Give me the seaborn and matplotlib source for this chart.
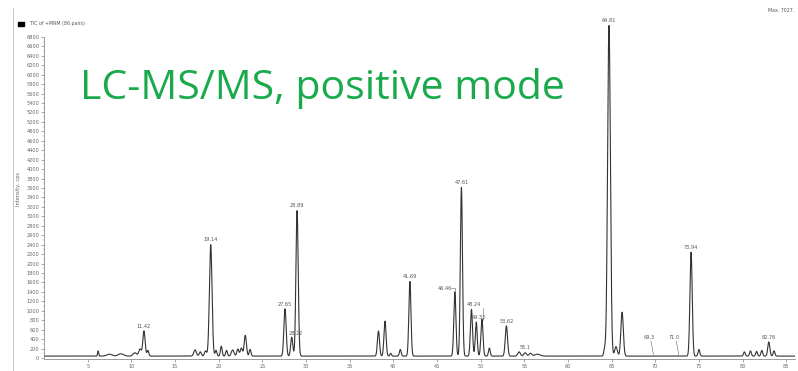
import numpy as np
import pandas as pd
import matplotlib
matplotlib.use("Agg")
import matplotlib.pyplot as plt
from matplotlib.lines import Line2D
from matplotlib.patches import Rectangle
import seaborn as sns

# ---- data ----
# labelled peaks: retention time (min), height (cps), width (sigma, min), label
peak_times = [11.45, 19.09, 27.6, 28.37, 28.98, 41.9, 47.05, 47.8, 48.95, 50.15, 52.95, 55.1, 64.7, 74.1, 83.0]
peak_heights = [530, 2360, 1000, 400, 3080, 1580, 1360, 3570, 990, 780, 640, 70, 7000, 2200, 300]
peak_sigmas = [0.13, 0.15, 0.13, 0.12, 0.13, 0.12, 0.12, 0.12, 0.12, 0.12, 0.13, 0.15, 0.16, 0.13, 0.12]
peak_labels = ["11.42", "19.14", "27.65", "28.22", "28.89", "41.69", "46.46", "47.61",
               "48.24", "49.32", "53.62", "55.1", "64.81", "73.94", "82.76"]

# unlabelled minor peaks / baseline bumps: time, height, sigma
minor_times = [6.2, 7.5, 8.8, 10.4, 11.0, 11.9, 17.3, 17.9, 18.5, 19.7, 20.3, 20.9, 21.6, 22.2, 22.6,
               23.05, 23.6, 38.3, 39.05, 39.7, 40.8, 49.5, 51.0, 54.4, 55.7, 56.5, 64.2, 65.5, 66.2,
               75.0, 80.2, 80.9, 81.6, 82.2, 83.6]
minor_heights = [110, 40, 50, 70, 150, 120, 130, 90, 110, 120, 210, 120, 130, 150, 170,
                 440, 140, 530, 740, 60, 140, 720, 170, 90, 60, 40, 150, 200, 930,
                 140, 90, 110, 100, 120, 110]
minor_sigmas = [0.06, 0.3, 0.3, 0.2, 0.15, 0.1, 0.15, 0.12, 0.12, 0.1, 0.1, 0.1, 0.15, 0.12, 0.12,
                0.13, 0.1, 0.12, 0.12, 0.08, 0.1, 0.11, 0.1, 0.15, 0.15, 0.3, 0.1, 0.15, 0.14,
                0.1, 0.1, 0.1, 0.1, 0.1, 0.1]
baseline_level = 40

# label placement tweaks (dx in min, dy in cps)
label_offsets = {"46.46": (-1.15, -40), "48.24": (0.3, 0), "49.32": (-0.35, -60), "28.22": (0.5, -20)}
leader_labels = ["69.3", "71.0"]
leader_label_pos = [(69.3, 380), (72.2, 380)]
leader_targets = [(69.8, 20), (72.7, 20)]

x_ticks = list(range(5, 90, 5))
y_ticks = list(range(0, 7000, 200))

# ---- build trace ----
t = np.arange(0, 86.0, 0.01)
y = np.full_like(t, float(baseline_level))
for c, h, s in zip(peak_times + minor_times, peak_heights + minor_heights, peak_sigmas + minor_sigmas):
    y += h * np.exp(-0.5 * ((t - c) / s) ** 2)
df = pd.DataFrame({"time": t, "intensity": y})

sns.set_style("white")
plt.rcParams["font.family"] = ["DejaVu Sans"]

W, H = 798, 371
fig = plt.figure(figsize=(W / 100, H / 100), dpi=100)
ax = fig.add_axes([44 / W, (H - 359.4) / H, (795 - 44) / W, 341.4 / H])

sns.lineplot(data=df, x="time", y="intensity", ax=ax, color="#333333", linewidth=0.8, estimator=None)

ax.set_xlim(0, 86)
ax.set_ylim(-30, 7200)
ax.set_xticks(x_ticks)
ax.set_xticklabels([str(v) for v in x_ticks])
ax.set_yticks(y_ticks)
ax.set_yticklabels([str(v) for v in y_ticks])
ax.set_xticks(np.arange(0, 86, 1), minor=True)
ax.set_yticks(np.arange(0, 6900, 100), minor=True)
ax.tick_params(axis="both", which="major", labelsize=3.6, colors="#666666", length=2, width=0.4, pad=1.5)
ax.tick_params(axis="both", which="minor", length=1, width=0.3, colors="#888888")
ax.tick_params(axis="x", which="both", direction="out", bottom=True)
ax.tick_params(axis="y", which="both", direction="out", left=True)
for sp in ["top", "right"]:
    ax.spines[sp].set_visible(False)
ax.spines["left"].set_bounds(0, 6800)
for sp in ["left", "bottom"]:
    ax.spines[sp].set_color("#777777")
    ax.spines[sp].set_linewidth(0.5)
ax.set_xlabel("")
ax.set_ylabel("Intensity, cps", fontsize=3.6, color="#666666", labelpad=4)

# peak labels
for c, h, lab in zip(peak_times, peak_heights, peak_labels):
    dx, dy = label_offsets.get(lab, (0, 0))
    ax.text(c + dx, h + 90 + dy, lab, fontsize=3.6, color="#555555", ha="center", va="bottom")
# leaders for 46.46 and 49.32
ax.plot([46.6, 47.05], [1480, 1480], color="#666666", lw=0.4)
ax.plot([47.05, 47.05], [1480, 1360], color="#666666", lw=0.4)
ax.plot([50.25, 50.25], [800, 1050], color="#666666", lw=0.4)
for lab, (lx, ly), (tx, ty) in zip(leader_labels, leader_label_pos, leader_targets):
    ax.text(lx, ly, lab, fontsize=3.6, color="#555555", ha="center", va="bottom")
    ax.plot([lx + 0.2, tx], [ly - 20, ty + 40], color="#666666", lw=0.4)

# title and decorations
fig.text(80 / W, 1 - 99 / H, "LC-MS/MS, positive mode", fontsize=29.5, color="#1aaa4c",
         family="Open Sans", ha="left", va="baseline")
fig.add_artist(Rectangle((18 / W, 1 - 26 / H), 6 / W, 4 / H, transform=fig.transFigure,
                         color="black"))
fig.text(30 / W, 1 - 24 / H, "TIC of +MRM (86 pairs)", fontsize=3.4, color="#555555",
         ha="left", va="center")
fig.text(0.995, 1 - 11 / H, "Max. 7027.", fontsize=3.4, color="#555555", ha="right", va="center")
fig.add_artist(Line2D([13 / W, 13 / W], [1 - 8 / H, 0], transform=fig.transFigure,
                      color="#bbbbbb", lw=0.6))

fig.savefig("out.png", dpi=100)
